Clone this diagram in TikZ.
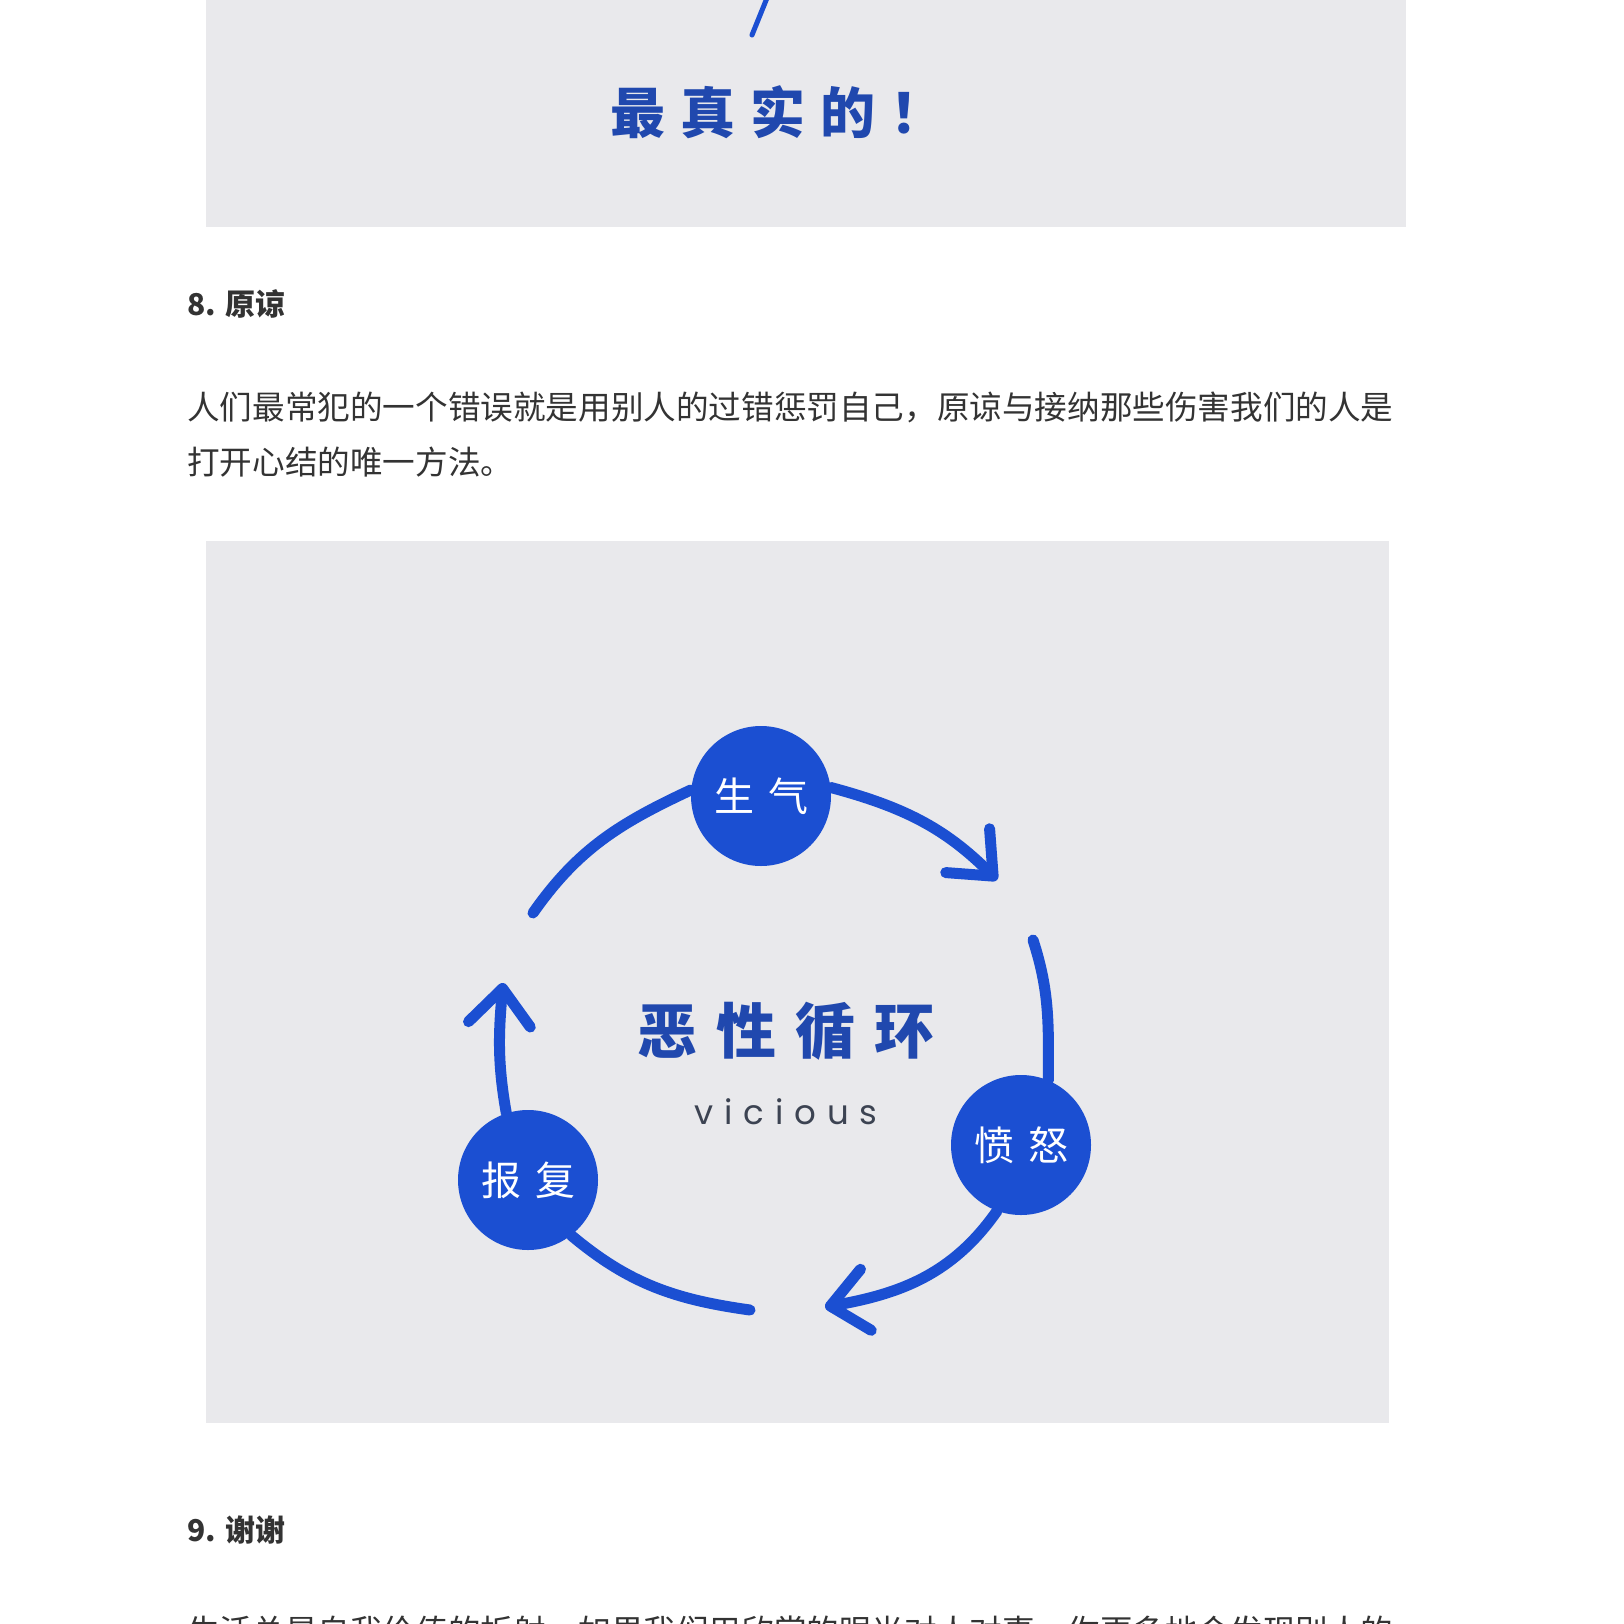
\documentclass[tikz,border=0pt]{standalone}
\usepackage{fontspec}
\setmainfont{Noto Sans CJK SC}
\newfontfamily\latin{Poppins}
\usetikzlibrary{arrows.meta}
\definecolor{cycleblue}{HTML}{1B4FD2}
\definecolor{titleblue}{HTML}{2048AE}
\definecolor{panelgray}{HTML}{E9E9EC}
\definecolor{bodytext}{HTML}{333333}
\definecolor{vicgray}{HTML}{3C4352}
\tikzset{
  mood/.style={circle, fill=cycleblue, minimum size=140pt, inner sep=0pt,
    text=white, font=\fontsize{40}{40}\selectfont},
  cyclearc/.style={draw=cycleblue, line width=11pt, line cap=round},
  chevron/.style={-{Straight Barb[round,length=36pt,width=62pt]}},
  bodyline/.style={anchor=west, inner sep=0pt, text=bodytext,
    font=\fontsize{32.6}{40}\selectfont},
  heading/.style={anchor=west, inner sep=0pt, text=bodytext,
    font=\bfseries\fontsize{30}{36}\selectfont},
}
\begin{document}
\begin{tikzpicture}[x=1pt, y=1pt]
\useasboundingbox (0,0) rectangle (1624,-1624);
\clip (0,0) rectangle (1624,-1624);
\fill[white] (0,0) rectangle (1624,-1624);
% top picture (cut off)
\fill[panelgray] (206,0) rectangle (1406,-227);
\coordinate (s0) at (767,2);
\coordinate (s1) at (752,-35);
\draw[cycleblue, line width=5pt, line cap=round] (s0) -- (s1);
\node[text=titleblue, font=\bfseries\fontsize{55}{55}\selectfont] (truest) at (778,-112)
  {最\hspace{15pt}真\hspace{15pt}实\hspace{15pt}的\hspace{15pt}！};
% section 8
\node[heading] (h8) at (187,-304) {8. 原谅};
\node[bodyline] (p1) at (187,-407) {人们最常犯的一个错误就是用别人的过错惩罚自己，原谅与接纳那些伤害我们的人是};
\node[bodyline] (p2) at (187,-462) {打开心结的唯一方法。};
% cycle picture
\fill[panelgray] (206,-541) rectangle (1389,-1423);
\node[mood] (angry) at (761,-796) {生\hspace{14pt}气};
\node[mood] (fury) at (1021,-1145) {愤\hspace{14pt}怒};
\node[mood] (revenge) at (528,-1180) {报\hspace{14pt}复};
\coordinate (a1) at (533,-913);
\coordinate (t2) at (997,-880);
\coordinate (a3) at (1033,-940);
\coordinate (t4) at (825,-1307);
\coordinate (a5) at (750,-1310);
\coordinate (t6) at (503,-983);
\draw[cyclearc] (a1) to[out=55,in=205] (angry.175);
\draw[cyclearc, chevron] (angry.7) to[out=-15,in=135] (t2);
\draw[cyclearc] (a3) to[out=-72,in=90] (fury.67);
\draw[cyclearc, chevron] (fury.-110) to[out=-125,in=10] (t4);
\draw[cyclearc] (revenge.-52) to[out=-40,in=172] (a5);
\draw[cyclearc, chevron] (revenge.108) to[out=100,in=-95] (t6);
\node[text=titleblue, font=\bfseries\fontsize{60}{60}\selectfont] (vtitle) at (786,-1031)
  {恶\hspace{19pt}性\hspace{19pt}循\hspace{19pt}环};
\node[text=vicgray, font=\latin\addfontfeatures{LetterSpace=32}\fontsize{34}{34}\selectfont]
  (vicious) at (786,-1112) {vicious};
% section 9
\node[heading] (h9) at (187,-1530) {9. 谢谢};
\node[bodyline] (p3) at (187,-1631) {生活总是自我价值的折射，如果我们用欣赏的眼光对人对事，你更多地会发现别人的};
\end{tikzpicture}
\end{document}
